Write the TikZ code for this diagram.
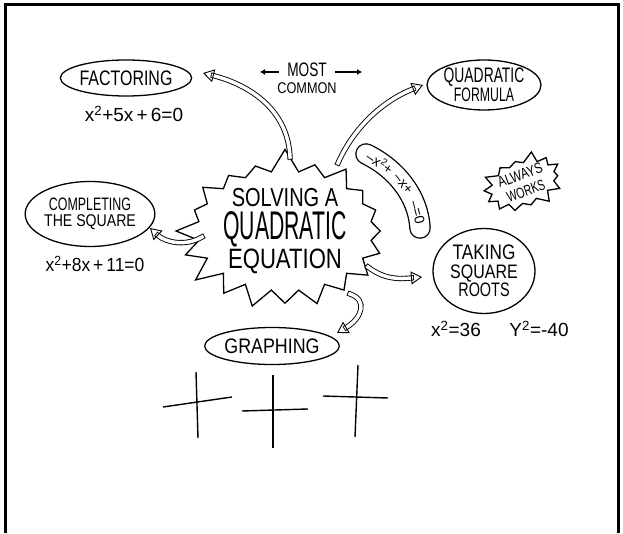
\documentclass[tikz,border=0pt]{standalone}
\usepackage{fontspec}
\setmainfont{Liberation Sans}
\usepackage{graphicx}
\usetikzlibrary{
    arrows.meta,
    shapes.geometric,
    shapes.symbols,
}
\newcommand{\squeeze}[2]{\scalebox{#1}[1]{#2}}
\newcommand{\fsize}[1]{\fontsize{#1}{\the\baselineskip}\selectfont}
\tikzset{
    % Bubble styles
    bubble/.style={ellipse, draw, line width=1.3pt, inner sep=0pt, align=center},
    burst/.style={starburst, draw, line width=1.3pt, inner sep=0pt, align=center},
    lines/.style={font=\fontsize{12}{#1}\selectfont},
    % Text styles
    formula/.style={font=\fontsize{19}{20}\selectfont},
    tube text/.style={font=\fontsize{14}{14}\selectfont, inner sep=0pt},
    % Arrow styles
    hollow arrow/.style={double=white, double distance=3.5pt, line width=0.9pt,
                         line cap=rect, -{Triangle[open, length=11pt, width=13pt]}},
    small arrow/.style={-{Latex[length=5pt, width=6pt]}, line width=2pt},
    tube/.style={double=white, double distance=19pt, line width=1.3pt, line cap=round},
    axis line/.style={line width=1.4pt},
}

\begin{document}
\begin{tikzpicture}[x=1pt, y=1pt]
    \useasboundingbox (0,0) rectangle (623,533);
    \fill[white] (0,0) rectangle (623,533);
    \draw[line width=3pt] (5,0) -- (5,528) -- (618,528) -- (618,0);

    % Centre
    \node[burst, lines=28, starburst points=20, starburst point height=24pt, random starburst=7,
          minimum width=150pt, minimum height=125pt] (solve) at (285,302)
        {\fsize{26}\squeeze{0.77}{SOLVING A}\\[3pt]
         \fsize{40}\squeeze{0.53}{QUADRATIC}\\[1pt]
         \fsize{28}\squeeze{0.79}{EQUATION}};

    % Methods
    \node[bubble, lines=12, minimum width=117pt, minimum height=36pt] (factoring) at (126,455)
        {\fsize{21}\squeeze{0.76}{FACTORING}};
    \node[bubble, lines=19.5, minimum width=103pt, minimum height=50pt] (formula) at (484,448)
        {\fsize{21}\squeeze{0.66}{QUADRATIC}\\\fsize{19.5}\squeeze{0.63}{FORMULA}};
    \node[bubble, lines=16, minimum width=120pt, minimum height=65pt] (completing) at (90,319)
        {\fsize{18}\squeeze{0.69}{COMPLETING}\\\fsize{17}\squeeze{0.83}{THE SQUARE}};
    \node[bubble, lines=18.5, minimum width=102pt, minimum height=85pt] (taking) at (484,262)
        {\fsize{21}\squeeze{0.82}{TAKING}\\\fsize{19.5}\squeeze{0.82}{SQUARE}\\\fsize{19.5}\squeeze{0.74}{ROOTS}};
    \node[bubble, lines=12, minimum width=113pt, minimum height=37pt] (graphing) at (272,187)
        {\fsize{21}\squeeze{0.85}{GRAPHING}};

    % Examples
    \node[formula] (factoring eq) at (134,419) {x\textsuperscript{2}+5x\,+\,6=0};
    \node[formula] (completing eq) at (95,269) {\squeeze{0.92}{x\textsuperscript{2}+8x\,+\,11=0}};
    \node[formula] (taking eq) at (456,204) {x\textsuperscript{2}=36};
    \node[formula] (taking eq2) at (539,204) {Y\textsuperscript{2}=-40};

    % Remarks
    \node (most) at (307,463) {\fsize{19.5}\squeeze{0.7}{MOST}};
    \node (common) at (307,445) {\fsize{15.5}\squeeze{0.82}{COMMON}};
    \coordinate (most left) at (260,461);
    \coordinate (most right) at (362,461);
    \draw[small arrow] ([xshift=-5pt, yshift=-2pt]most.west) -- (most left);
    \draw[small arrow] ([xshift=5pt, yshift=-2pt]most.east) -- (most right);
    \node[burst, lines=17, starburst points=14, starburst point height=10pt, random starburst=3,
          minimum width=70pt, minimum height=52pt, rotate=20] (always) at (523,350)
        {\fsize{15}\squeeze{0.78}{ALWAYS}\\\fsize{15}\squeeze{0.7}{WORKS}};

    % Standard form tube
    \coordinate (tube top) at (366,379);
    \coordinate (tube end) at (420,305);
    \draw[tube] (tube top) .. controls (395,365) and (418,338) .. (tube end)
        node[tube text, pos=0.17, sloped] {--x\textsuperscript{2}+}
        node[tube text, pos=0.5, sloped] {--x+}
        node[tube text, pos=0.84, sloped] {--=0};

    % Arrows
    \draw[hollow arrow] ([shift={(5,74)}]solve.center) .. controls +(-2,47) and +(47,-12) .. ([shift={(77,5)}]factoring.center);
    \draw[hollow arrow] ([shift={(53,68)}]solve.center) .. controls +(17,38) and +(-38,-15) .. ([shift={(-61,0)}]formula.center);
    \draw[hollow arrow] ([shift={(-83,-6)}]solve.center) .. controls +(-17,-10) and +(15,-14) .. ([shift={(60,-14)}]completing.center);
    \draw[hollow arrow] ([shift={(83,-36)}]solve.center) .. controls +(17,-13) and +(-22,-2) .. ([shift={(-62,-6)}]taking.center);
    \draw[hollow arrow] ([shift={(65,-63)}]solve.center) .. controls +(18,-6) and +(25,15) .. ([shift={(65,13)}]graphing.center);

    % Axes
    \foreach \ax/\ay/\bx/\by/\cx/\cy/\dx/\dy in
        {196/161/198/95/163/126/232/136, 273/158/273/85/242/122/308/124, 358/168/355/96/323/137/388/135} {
        \draw[axis line] (\ax,\ay) -- (\bx,\by);
        \draw[axis line] (\cx,\cy) -- (\dx,\dy);
    }
\end{tikzpicture}
\end{document}
